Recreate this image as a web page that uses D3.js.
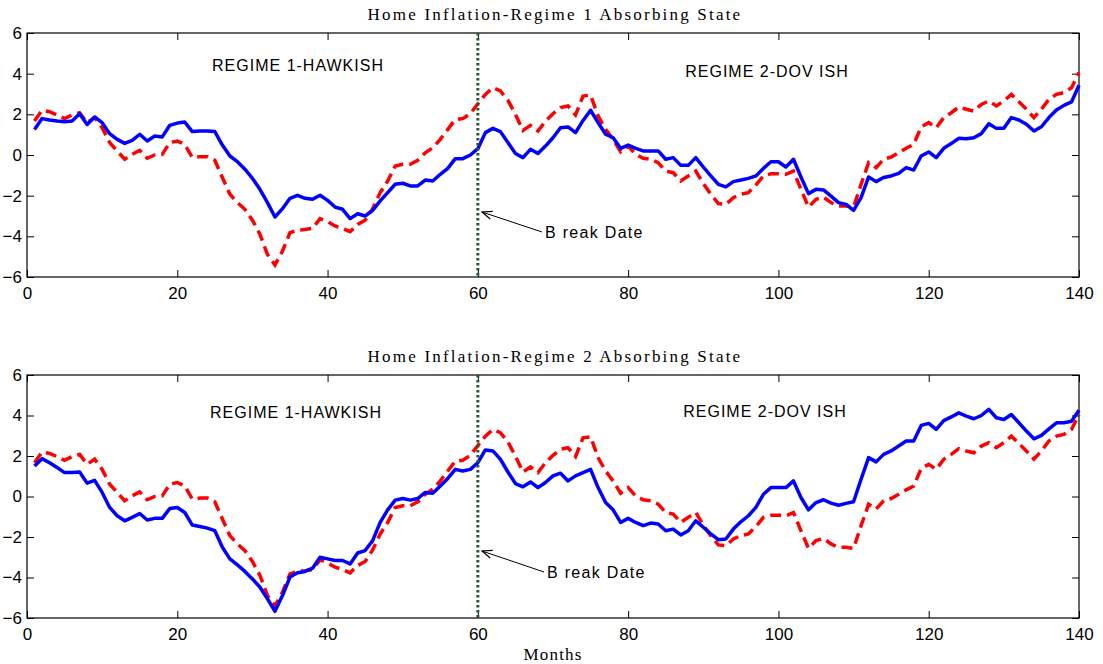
<!DOCTYPE html>
<html>
<head>
<meta charset="utf-8">
<script src="https://cdn.jsdelivr.net/npm/d3@7"></script>
<style>
  body { margin: 0; background: #fff; }
  svg text { font-family: "Liberation Sans", Arial, sans-serif; }
</style>
</head>
<body>
<svg id="chart" width="1103" height="664"></svg>
<script>
// months 1..140
var months = d3.range(1, 141);

// common dashed (red) series
var redSeries = [1.67,2.2,2.13,1.97,1.79,1.97,2.08,1.59,1.84,1.34,0.61,0.2,-0.21,0.03,0.23,-0.16,0,0.03,0.61,0.69,
  0.52,-0.13,-0.08,-0.08,-0.26,-1.11,-1.93,-2.34,-2.67,-3.21,-3.9,-4.89,-5.41,-4.72,-3.82,-3.7,-3.66,-3.61,-3.13,-3.28,
  -3.49,-3.61,-3.77,-3.41,-3.21,-2.64,-1.85,-1.28,-0.54,-0.46,-0.46,-0.26,0.11,0.36,0.77,1.26,1.75,1.79,2.03,2.52,
  2.98,3.31,3.15,2.69,2.0,1.21,1.46,1.18,1.67,2.03,2.33,2.41,1.97,2.9,2.95,1.92,1.26,0.77,0.16,0.44,
  0.03,-0.16,-0.21,-0.38,-0.79,-0.87,-1.28,-1.03,-0.79,-1.41,-1.93,-2.39,-2.43,-2.1,-1.93,-1.85,-1.48,-1.03,-0.92,-0.92,
  -0.95,-0.79,-1.69,-2.56,-2.18,-2.07,-2.34,-2.51,-2.51,-2.56,-1.44,-0.38,-0.62,-0.21,-0.1,0.11,0.33,0.52,1.38,1.59,
  1.34,1.84,2.08,2.36,2.25,2.16,2.49,2.66,2.41,2.66,2.98,2.62,2.25,1.84,2.25,2.74,2.98,3.07,3.31,4.05];

// solid (blue) series, top panel
var blueRegime1 = [1.26,1.79,1.72,1.67,1.64,1.67,2.03,1.5,1.87,1.59,1.05,0.77,0.57,0.72,1.02,0.69,0.93,0.89,1.46,1.57,
  1.62,1.15,1.18,1.18,1.15,0.49,-0.05,-0.33,-0.7,-1.15,-1.69,-2.34,-3.05,-2.64,-2.13,-1.98,-2.13,-2.18,-1.98,-2.23,
  -2.56,-2.67,-3.13,-2.89,-3.0,-2.72,-2.26,-1.85,-1.44,-1.39,-1.52,-1.52,-1.23,-1.28,-0.95,-0.66,-0.18,-0.18,0,0.31,
  1.1,1.31,1.15,0.61,0.07,-0.13,0.28,0.07,0.44,0.85,1.34,1.38,1.1,1.7,2.2,1.59,1.02,0.85,0.33,0.49,
  0.33,0.2,0.2,0.2,-0.21,-0.13,-0.51,-0.51,-0.13,-0.59,-1.03,-1.44,-1.57,-1.31,-1.23,-1.15,-1.03,-0.66,-0.33,-0.33,
  -0.59,-0.21,-1.08,-1.9,-1.69,-1.72,-2.02,-2.34,-2.43,-2.72,-2.1,-1.08,-1.31,-1.11,-1.03,-0.9,-0.62,-0.74,-0.05,0.15,
  -0.13,0.33,0.57,0.82,0.8,0.85,1.05,1.54,1.31,1.31,1.84,1.72,1.51,1.18,1.39,1.84,2.21,2.44,2.61,3.43];

// solid (blue) series, bottom panel
var blueRegime2 = [1.51,1.87,1.67,1.43,1.18,1.18,1.21,0.66,0.8,0.2,-0.54,-0.95,-1.2,-1.03,-0.84,-1.16,-1.08,-1.08,-0.59,-0.54,
  -0.79,-1.41,-1.48,-1.56,-1.69,-2.51,-3.08,-3.38,-3.7,-4.07,-4.48,-5.05,-5.67,-4.89,-3.98,-3.77,-3.7,-3.54,-3.0,-3.08,
  -3.16,-3.16,-3.33,-2.79,-2.67,-2.18,-1.28,-0.66,-0.18,-0.1,-0.18,-0.1,0.2,0.16,0.52,0.89,1.34,1.26,1.34,1.67,
  2.3,2.25,1.84,1.21,0.64,0.48,0.72,0.44,0.69,1.02,1.15,0.77,1.02,1.18,1.34,0.44,-0.3,-0.66,-1.28,-1.08,
  -1.28,-1.44,-1.31,-1.36,-1.69,-1.61,-1.9,-1.69,-1.2,-1.52,-1.85,-2.13,-2.1,-1.61,-1.25,-0.95,-0.54,0.11,0.44,0.44,
  0.44,0.77,-0.05,-0.66,-0.3,-0.16,-0.33,-0.43,-0.34,-0.26,0.85,1.92,1.71,2.08,2.25,2.49,2.74,2.74,3.51,3.61,
  3.31,3.75,3.93,4.13,3.97,3.84,4.0,4.3,3.89,3.8,4.05,3.64,3.23,2.85,3.02,3.34,3.64,3.64,3.72,4.26];

var xTicks = [0, 20, 40, 60, 80, 100, 120, 140];
var yTicks = [-6, -4, -2, 0, 2, 4, 6];
var breakMonth = 60;

var panels = [
  { title: 'Home Inflation-Regime 1 Absorbing State', blue: blueRegime1, top: 33, bottom: 277,
    r1: [298, 71], r2: [767, 77], note: [545, 238], tip: [482, 212] },
  { title: 'Home Inflation-Regime 2 Absorbing State', blue: blueRegime2, top: 375, bottom: 618,
    r1: [296, 418], r2: [765, 417], note: [547, 578], tip: [482, 551] }
];

var svg = d3.select('#chart');
svg.append('defs').append('marker')
  .attr('id', 'arrow').attr('viewBox', '0 0 12 10').attr('refX', 11).attr('refY', 5)
  .attr('markerUnits', 'userSpaceOnUse').attr('markerWidth', 12).attr('markerHeight', 10).attr('orient', 'auto')
  .append('path').attr('d', 'M1,1 L11,5 L1,9').attr('fill', 'none').attr('stroke', '#000').attr('stroke-width', 1.2);

var x = d3.scaleLinear().domain([0, 140]).range([27, 1079]);

panels.forEach(function(p) {
  var y = d3.scaleLinear().domain([-6, 6]).range([p.bottom, p.top]);
  var g = svg.append('g');

  // ticks on all four sides, pointing inward (matlab box)
  g.append('g').attr('transform', 'translate(0,' + p.bottom + ')')
    .call(d3.axisBottom(x).tickValues(xTicks).tickSizeInner(-7).tickSizeOuter(0).tickPadding(10));
  g.append('g').attr('transform', 'translate(0,' + p.top + ')')
    .call(d3.axisTop(x).tickValues(xTicks).tickSizeInner(-7).tickSizeOuter(0).tickFormat(''));
  g.append('g').attr('transform', 'translate(27,0)')
    .call(d3.axisLeft(y).tickValues(yTicks).tickSizeInner(-7).tickSizeOuter(0).tickPadding(5));
  g.append('g').attr('transform', 'translate(1079,0)')
    .call(d3.axisRight(y).tickValues(yTicks).tickSizeInner(-7).tickSizeOuter(0).tickFormat(''));
  g.selectAll('.domain').remove();
  g.selectAll('.tick line').attr('stroke', '#000').attr('stroke-width', 1);
  g.selectAll('.tick text').attr('font-size', 17).attr('fill', '#000');

  g.append('rect').attr('x', 27).attr('y', p.top).attr('width', 1052).attr('height', p.bottom - p.top)
    .attr('fill', 'none').attr('stroke', '#000').attr('stroke-width', 1.2);

  var line = d3.line().x(function(d, i) { return x(months[i]); }).y(function(d) { return y(d); });

  g.append('path').datum(redSeries).attr('d', line).attr('fill', 'none')
    .attr('stroke', '#ff0000').attr('stroke-width', 3.5).attr('stroke-dasharray', '11,6');
  g.append('path').datum(p.blue).attr('d', line).attr('fill', 'none')
    .attr('stroke', '#0000ff').attr('stroke-width', 3.5).attr('stroke-linejoin', 'round');

  g.append('line').attr('x1', x(breakMonth)).attr('x2', x(breakMonth)).attr('y1', p.top).attr('y2', p.bottom)
    .attr('stroke', '#1e5e32').attr('stroke-width', 3).attr('stroke-dasharray', '2.5,2.5');

  g.append('text').attr('x', 555).attr('y', p.top - 13).attr('text-anchor', 'middle')
    .style('font-family', '"Liberation Serif", "Times New Roman", serif').attr('font-size', 17)
    .attr('letter-spacing', 2.2).text(p.title);

  g.append('text').attr('x', p.r1[0]).attr('y', p.r1[1]).attr('text-anchor', 'middle').attr('font-size', 16)
    .attr('letter-spacing', 1).text('REGIME 1-HAWKISH');
  g.append('text').attr('x', p.r2[0]).attr('y', p.r2[1]).attr('text-anchor', 'middle').attr('font-size', 16)
    .attr('letter-spacing', 1).text('REGIME 2-DOV ISH');

  g.append('line').attr('x1', p.note[0] - 3).attr('y1', p.note[1] - 6).attr('x2', p.tip[0]).attr('y2', p.tip[1])
    .attr('stroke', '#000').attr('stroke-width', 1).attr('marker-end', 'url(#arrow)');
  g.append('text').attr('x', p.note[0]).attr('y', p.note[1]).attr('font-size', 16)
    .attr('letter-spacing', 1.3).text('B reak Date');
});

svg.append('text').attr('x', 553).attr('y', 660).attr('text-anchor', 'middle')
  .style('font-family', '"Liberation Serif", "Times New Roman", serif').attr('font-size', 17)
  .attr('letter-spacing', 1.2).text('Months');
</script>
</body>
</html>
